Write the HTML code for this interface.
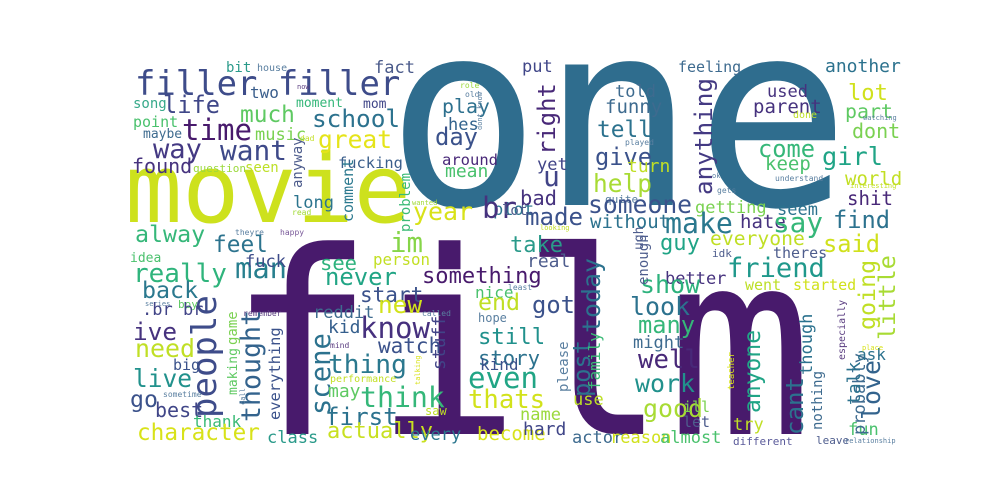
<!DOCTYPE html>
<html><head><meta charset="utf-8"><style>
html,body{margin:0;padding:0;background:#fff;}
svg{display:block;}
text{font-family:"DejaVu Sans Mono","Liberation Mono",monospace;}
</style></head><body>
<svg id="cloud" width="1000" height="500" viewBox="0 0 1000 500" xmlns="http://www.w3.org/2000/svg">
<rect width="1000" height="500" fill="#ffffff"/>
</svg>
<script>
// [word, x, baseline y, font size, color, target length(0=auto), vertical(1)]
const words = [
["one",386,205,257,"#2f6d8e",0,0],
["film",228,434,255,"#481a6c",-585,0],
["movie",125,222,90,"#cde11d",286,0],
["filler filler",135,95,38,"#3e4c8a",265,0],
["bit",226,72,14,"#2a9a8a",0,0],
["house",257,71,10,"#5a7fa0",0,0],
["fact",374,73,17,"#4a5a8a",0,0],
["life",163,113,33,"#3f4788",57,0],
["two",250,98,16,"#3a5e8c",0,0],
["song",133,108,14,"#37a98a",0,0],
["much",240,122,30,"#5ec962",55,0],
["moment",296,107,13,"#35b779",0,0],
["mom",363,108,13,"#404688",0,0],
["school",312,127,30,"#2c728e",88,0],
["point",133,127,15,"#4ac16d",0,0],
["time",182,140,36,"#481a6c",70,0],
["maybe",143,138,13,"#3e6b8f",0,0],
["music",255,140,17,"#7ad151",0,0],
["great",318,148,33,"#e5e419",74,0],
["way",153,158,33,"#443983",49,0],
["want",220,160,33,"#3e4989",67,0],
["fucking",338,168,22,"#3b5f8c",65,0],
["anyway",302,188,14,"#4e5d8d",0,1],
["found",132,173,20,"#46327e",0,0],
["question",193,172,11,"#9bd93c",0,0],
["seen",245,172,14,"#bddf26",0,0],
["comment",353,222,15,"#2a788e",0,1],
["long",293,208,17,"#2b748e",0,0],
["problem",410,232,14,"#3aba76",0,1],
["read",292,215,8,"#a2da37",0,0],
["wanted",412,205,7,"#a2da37",0,0],
["plot",493,215,17,"#2a768e",0,0],
["year",413,220,30,"#d8e219",60,0],
["alway",135,242,30,"#35b779",70,0],
["feel",213,252,33,"#2c738e",55,0],
["theyre",235,235,8,"#5a7fa0",0,0],
["happy",280,235,8,"#7a5a9a",0,0],
["im",390,252,38,"#86d549",33,0],
["br",482,218,40,"#46327e",35,0],
["day",435,145,33,"#3b528b",43,0],
["play",442,113,25,"#2d708e",48,0],
["hes",448,130,17,"#33638d",0,0],
["around",442,165,19,"#482878",56,0],
["mean",445,177,18,"#4ac16d",0,0],
["role",460,88,8,"#9bd93c",0,0],
["old",465,97,8,"#5a7fa0",0,0],
["dont know",482,130,7,"#5a7fa0",0,1],
["now",297,89,7,"#5a3d80",0,0],
["dad",300,141,8,"#c2df23",0,0],
["really",133,282,32,"#2fb47c",94,0],
["idea",130,262,13,"#4ac16d",0,0],
["man",235,278,29,"#277f8e",52,0],
["fuck",245,267,17,"#3e4c8a",0,0],
["person",373,265,19,"#c2df23",57,0],
["see",320,270,33,"#2db27d",37,0],
["never",325,285,28,"#21a585",72,0],
["something",422,283,33,"#481a6c",120,0],
["back",142,298,30,"#2a788e",56,0],
["start",360,302,21,"#3b528b",0,0],
["nice",475,298,16,"#4ac16d",0,0],
["series",145,306,7,"#5a7fa0",0,0],
["boy",178,308,11,"#5ec962",0,0],
["people",216,418,34,"#3e4c8a",123,1],
[".br br",142,315,17,"#414487",0,0],
["game",237,345,14,"#7ad151",0,1],
["remember",243,316,8,"#5a3d80",0,0],
["reddit",313,318,17,"#3e6b8f",0,0],
["called",422,316,8,"#5a7fa0",0,0],
["new",378,313,30,"#d2e21b",44,0],
["end",478,310,33,"#c0df25",42,0],
["ive",133,340,32,"#46327e",44,0],
["thought",260,422,30,"#33638d",112,1],
["know",360,338,38,"#46307e",70,0],
["kid",328,333,18,"#355f8d",0,0],
["hope",478,322,12,"#5a7fa0",0,0],
["need",135,357,30,"#c0df25",60,0],
["everything",280,420,17,"#3b528b",93,1],
["scene",330,415,30,"#2c728e",82,1],
["watch",378,353,21,"#3b528b",0,0],
["stuff",445,370,18,"#414487",0,1],
["mind",330,348,8,"#5a3d80",0,0],
["making",237,395,13,"#5ec962",0,1],
["live",133,387,32,"#21918c",59,0],
["big",173,370,15,"#3b528b",0,0],
["thing",328,373,34,"#2a788e",79,0],
["performance",330,382,10,"#c2df23",0,0],
["talking",420,385,7,"#d8e219",0,1],
["go",130,407,33,"#3b528b",28,0],
["think",360,407,38,"#35b779",85,0],
["may",328,397,18,"#5ec962",0,0],
["sometime",163,397,8,"#5a7fa0",0,0],
["call",245,405,7,"#5a7fa0",0,1],
["best",155,417,20,"#404688",0,0],
["first",325,425,34,"#2c728e",73,0],
["saw",425,415,12,"#bddf26",0,0],
["thank",193,427,16,"#3aba76",0,0],
["character",137,440,29,"#d8e219",123,0],
["class",267,443,17,"#2a9a8a",0,0],
["actually",327,438,22,"#c8e020",0,0],
["every",410,440,17,"#2a768e",0,0],
["become",477,440,19,"#d8e219",0,0],
["still",478,344,33,"#21918c",67,0],
["story",478,365,29,"#2c728e",62,0],
["kind",480,370,16,"#3b528b",0,0],
["even",468,388,30,"#21a585",70,0],
["thats",468,408,30,"#d2e21b",77,0],
["got",532,313,33,"#3b528b",43,0],
["post",590,397,30,"#2c728e",57,1],
["today",600,333,28,"#2c728e",75,1],
["real",527,267,18,"#4e5d8d",0,0],
["least",508,290,8,"#5a7fa0",0,0],
["please",568,392,14,"#5a7fa0",0,1],
["family",600,390,16,"#3aba76",0,1],
["use",573,405,17,"#bddf26",0,0],
["name",520,420,17,"#9bd93c",0,0],
["hard",523,435,18,"#404688",0,0],
["actor",572,443,17,"#3e6b8f",0,0],
["reason",610,443,17,"#d0e11c",0,0],
["almost",660,443,17,"#4ac16d",0,0],
["different",733,445,11,"#5a5a9a",0,0],
["leave",816,444,11,"#4e5d8d",0,0],
["relationship",845,443,7,"#5a7fa0",0,0],
["fun",848,435,17,"#4ac16d",0,0],
["probably",865,435,17,"#3e6b8f",0,1],
["talk",860,405,18,"#2c728e",0,1],
["love",880,420,28,"#33638d",60,1],
["ask",857,360,16,"#2c728e",0,0],
["especially",845,360,10,"#5a3d80",0,1],
["place",862,350,7,"#d8e219",0,0],
["going",875,330,28,"#c0df25",70,1],
["little",895,340,30,"#a8db34",85,1],
["friend",727,277,33,"#1f988b",98,0],
["theres",773,258,15,"#4e5d8d",0,0],
["started",793,290,15,"#d0e11c",0,0],
["went",745,290,15,"#bddf26",0,0],
["better",665,284,17,"#46327e",0,0],
["show",640,293,30,"#2db27d",60,0],
["enough",648,285,14,"#4e5d8d",0,1],
["look",630,315,33,"#2c728e",60,0],
["many",638,333,30,"#35b779",57,0],
["might",633,348,17,"#3e6b8f",0,0],
["well",638,368,37,"#482878",62,0],
["work",635,392,33,"#21918c",60,0],
["good",643,417,38,"#a8db34",60,0],
["ill",683,412,15,"#7ad151",0,0],
["let",683,427,15,"#4e5d8d",0,0],
["anyone",760,413,30,"#20a486",83,1],
["teacher",734,390,9,"#d8e219",0,1],
["try",733,430,17,"#c0df25",0,0],
["cant",803,435,30,"#2c728e",58,1],
["though",812,375,17,"#2c728e",0,1],
["nothing",822,430,14,"#3e6b8f",0,1],
["idk",712,257,11,"#4e5d8d",0,0],
["put",522,72,17,"#404688",0,0],
["feeling",678,72,15,"#3e6b8f",0,0],
["another",825,72,18,"#2c728e",0,0],
["right",555,155,28,"#482878",72,1],
["anything",712,195,28,"#443a83",117,1],
["told",615,97,17,"#3e6b8f",0,0],
["funny",605,113,19,"#3e6b8f",0,0],
["used",767,97,17,"#46327e",0,0],
["parent",753,113,19,"#46327e",0,0],
["lot",848,100,30,"#d0e11c",40,0],
["part",845,118,25,"#5ec962",48,0],
["done",793,118,10,"#bddf26",0,0],
["watching",863,120,7,"#5a7fa0",0,0],
["dont",852,138,20,"#7ad151",0,0],
["tell",597,137,33,"#2c728e",55,0],
["come",758,157,30,"#35b779",57,0],
["girl",822,165,38,"#20a486",61,0],
["give",595,165,33,"#3b528b",57,0],
["played",625,145,8,"#5a7fa0",0,0],
["keep",765,170,19,"#4ac16d",0,0],
["yet",537,170,17,"#414487",0,0],
["u",543,186,28,"#414487",0,0],
["turn",627,172,18,"#c0df25",0,0],
["world",845,185,19,"#c2df23",0,0],
["help",593,192,33,"#a8db34",59,0],
["ok",712,178,7,"#5a7fa0",0,0],
["understand",775,181,8,"#5a7fa0",0,0],
["interesting",850,188,7,"#c2df23",0,0],
["gets",717,193,8,"#5a7fa0",0,0],
["bad",520,205,25,"#46327e",37,0],
["quite",605,203,11,"#5a7fa0",0,0],
["shit",847,205,29,"#482878",46,0],
["getting",695,213,17,"#7ad151",0,0],
["seem",777,215,17,"#2c728e",0,0],
["someone",588,213,28,"#3b528b",104,0],
["made",525,225,30,"#3b528b",58,0],
["hate",740,228,19,"#46327e",0,0],
["without",590,228,19,"#2c728e",0,0],
["find",833,228,30,"#2c728e",57,0],
["make",665,233,38,"#2a788e",68,0],
["say",773,232,33,"#35b779",50,0],
["lot",502,215,14,"#4e5d8d",0,0],
["looking",540,230,7,"#c2df23",0,0],
["take",510,252,30,"#2a9a8a",53,0],
["guy",660,250,33,"#20a486",40,0],
["everyone",710,245,25,"#c0df25",95,0],
["said",823,252,30,"#d0e11c",57,0],
["ugh",643,250,13,"#4e5d8d",0,1]
];
const svg = document.getElementById('cloud');
const NS = 'http://www.w3.org/2000/svg';
for (const w of words) {
  const t = document.createElementNS(NS, 'text');
  
  
  t.setAttribute('font-size', w[3]);
  t.setAttribute('fill', w[4]);
  if (w[6]) {
    t.setAttribute('transform', 'translate(' + w[1] + ',' + w[2] + ') rotate(-90)');
    t.setAttribute('x', 0);
    t.setAttribute('y', 0);
  } else {
    t.setAttribute('x', w[1]);
    t.setAttribute('y', w[2]);
  }
  t.textContent = w[0];
  svg.appendChild(t);
  if (w[5] < 0) {
    t.setAttribute('textLength', -w[5]);
    t.setAttribute('lengthAdjust', 'spacingAndGlyphs');
  } else if (w[5] > 0) {
    const m = t.getComputedTextLength();
    if (m > 0) t.setAttribute('font-size', (w[3] * w[5] / m).toFixed(1));
  }
}
</script>
</body></html>
